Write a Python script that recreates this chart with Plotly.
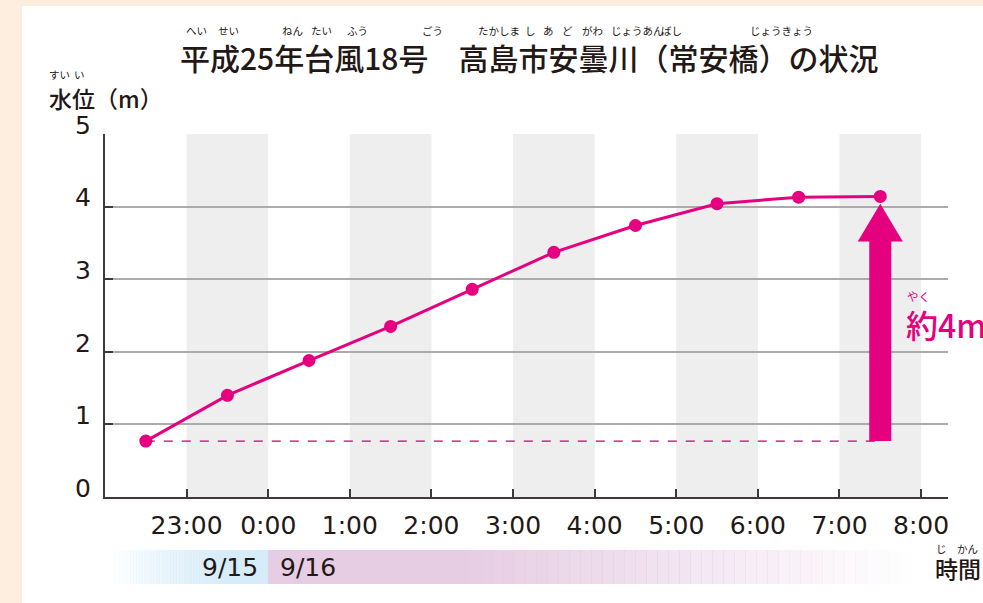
import plotly.graph_objects as go

# ---- data ----
hours = [-1.5, -0.5, 0.5, 1.5, 2.5, 3.5, 4.5, 5.5, 6.5, 7.5]  # hours from 0:00 on 9/16
levels = [0.77, 1.40, 1.88, 2.35, 2.86, 3.37, 3.74, 4.04, 4.13, 4.14]
tick_vals = [-1, 0, 1, 2, 3, 4, 5, 6, 7, 8]
tick_text = ["23:00", "0:00", "1:00", "2:00", "3:00", "4:00", "5:00", "6:00", "7:00", "8:00"]
y_ticks = [0, 1, 2, 3, 4, 5]
band_starts = [-1, 1, 3, 5, 7]

W, H = 983, 603
L, R, T, B = 105, 35, 134, 106
PW, PH = W - L - R, H - T - B

def px(x):
    return (x - L) / PW

def py(y):
    return (H - B - y) / PH

MAG = "#E4007F"
TXT = "#231815"
FONT = "Noto Sans CJK JP"
NUMFONT = "DejaVu Sans"

fig = go.Figure()

shapes = []
# peach page background strips
shapes.append(dict(type="rect", xref="paper", yref="paper", x0=px(-10), x1=px(22), y0=py(620), y1=py(-10),
                   fillcolor="#FDEEE0", line_width=0, layer="below"))
shapes.append(dict(type="rect", xref="paper", yref="paper", x0=px(-10), x1=px(1000), y0=py(6), y1=py(-10),
                   fillcolor="#FDEEE0", line_width=0, layer="below"))

# gray hour bands
for s in band_starts:
    shapes.append(dict(type="rect", xref="x", yref="paper", x0=s, x1=s + 1, y0=0, y1=1,
                       fillcolor="#EEEEEE", line_width=0, layer="below"))

# date bar gradients
n = 40
x_a, x_b, x_c = 110, 225, 268
for i in range(n):
    a0 = x_a + (x_b - x_a) * i / n
    a1 = x_a + (x_b - x_a) * (i + 1) / n
    op = (i + 0.5) / n
    shapes.append(dict(type="rect", xref="paper", yref="paper", x0=px(a0), x1=px(a1) + 0.001,
                       y0=py(584), y1=py(550), fillcolor="#D6ECF9", opacity=op, line_width=0, layer="below"))
shapes.append(dict(type="rect", xref="paper", yref="paper", x0=px(x_b), x1=px(x_c),
                   y0=py(584), y1=py(550), fillcolor="#D6ECF9", line_width=0, layer="below"))
p_full, p_end = 470, 910
shapes.append(dict(type="rect", xref="paper", yref="paper", x0=px(x_c), x1=px(p_full),
                   y0=py(584), y1=py(550), fillcolor="#E6CDE4", line_width=0, layer="below"))
for i in range(n):
    a0 = p_full + (p_end - p_full) * i / n
    a1 = p_full + (p_end - p_full) * (i + 1) / n
    op = 1 - (i + 0.5) / n
    shapes.append(dict(type="rect", xref="paper", yref="paper", x0=px(a0), x1=px(a1) + 0.001,
                       y0=py(584), y1=py(550), fillcolor="#E6CDE4", opacity=op, line_width=0, layer="below"))

# dashed baseline from first level
shapes.append(dict(type="line", xref="x", yref="y", x0=hours[0], x1=hours[-1], y0=levels[0], y1=levels[0],
                   line=dict(color="#C8006E", width=1.2, dash="dash"), layer="between"))

# big arrow from first to last level
xa = hours[-1]
y0 = levels[0]
y1 = levels[-1] - 0.1
hw, Hw, hl = 0.135, 0.276, 0.52
path = (f"M {xa-hw},{y0} L {xa-hw},{y1-hl} L {xa-Hw},{y1-hl} L {xa},{y1} "
        f"L {xa+Hw},{y1-hl} L {xa+hw},{y1-hl} L {xa+hw},{y0} Z")
shapes.append(dict(type="path", xref="x", yref="y", path=path, fillcolor=MAG, line_width=0, layer="between"))

fig.add_trace(go.Scatter(x=hours, y=levels, mode="lines+markers",
                         line=dict(color=MAG, width=3), marker=dict(color=MAG, size=13),
                         hoverinfo="skip", showlegend=False))

ann = []
def text(x, y, s, size, color=TXT, xanchor="center", weight="normal", family=FONT):
    ann.append(dict(xref="paper", yref="paper", x=px(x), y=py(y), text=s, showarrow=False,
                    xanchor=xanchor, yanchor="middle",
                    font=dict(family=family, size=size, color=color, weight=weight)))

# title
text(529, 57, "平成25年台風18号　高島市安曇川（常安橋）の状況", 30, weight=500)
for s, cx in [("へい", 196), ("せい", 228), ("ねん", 292), ("たい", 321), ("ふう", 357), ("ごう", 432),
              ("たかしま", 499), ("し", 530), ("あ", 548), ("ど", 567), ("がわ", 592),
              ("じょうあん", 637), ("ばし", 671), ("じょうきょう", 781)]:
    text(cx, 31, s, 10.5)

# y axis title
text(47, 98, "水位（m）", 23, xanchor="left", weight=500)
text(59, 74, "すい", 10.5)
text(79, 74, "い", 10.5)

# time label
text(983, 568, "時間", 23, xanchor="right", weight=500)
text(941, 548, "じ", 10.5)
text(967, 548, "かん", 10.5)

# date labels
text(260, 567, "9/15", 25, xanchor="right", family=NUMFONT)
text(278, 567, "9/16", 25, xanchor="left", family=NUMFONT)

# about 4 m
text(904, 324, "約4m", 32, color=MAG, xanchor="left", weight=500)
text(918, 296, "やく", 11.5, color=MAG)

fig.update_layout(
    width=W, height=H,
    margin=dict(l=L, r=R, t=T, b=B),
    paper_bgcolor="white", plot_bgcolor="white",
    shapes=shapes, annotations=ann,
    xaxis=dict(range=[-2, 8.33], tickvals=tick_vals, ticktext=tick_text, showgrid=False,
               showline=True, linecolor="#3E3A39", linewidth=2, ticks="inside", ticklen=8,
               tickwidth=1.5, tickcolor="#3E3A39", zeroline=False,
               tickfont=dict(family=NUMFONT, size=25, color=TXT), ticklabelstandoff=5, fixedrange=True),
    yaxis=dict(range=[0, 5], tickvals=y_ticks, showgrid=True, gridcolor="#ABABAB", gridwidth=1.5,
               showline=True, linecolor="#3E3A39", linewidth=2, ticks="inside", ticklen=8,
               tickwidth=2, tickcolor="#3E3A39", zeroline=False,
               tickfont=dict(family=NUMFONT, size=25, color=TXT), ticklabelshift=-9, ticklabelstandoff=7,
               fixedrange=True),
)

fig.write_html("out.html", config={"displayModeBar": False},
               post_script="document.body.style.margin='0';document.body.style.overflow='hidden';")
